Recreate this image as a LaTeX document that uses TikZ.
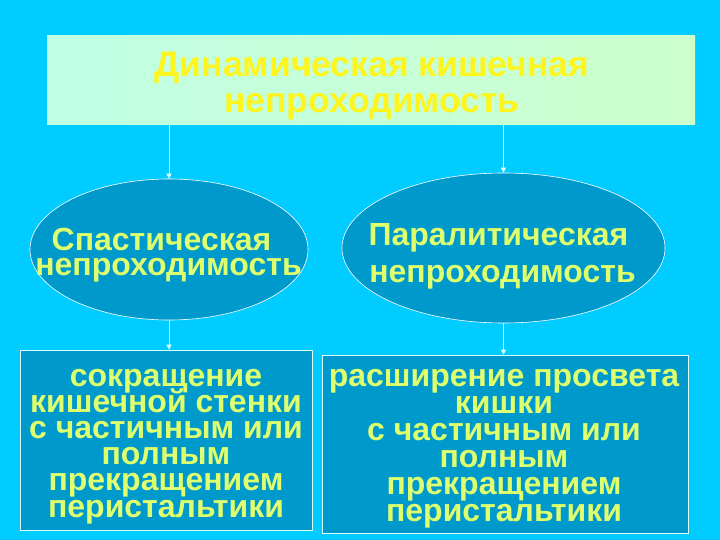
\documentclass[tikz,border=0pt]{standalone}
\usepackage{fontspec}
\setmainfont{Liberation Sans}
\usetikzlibrary{shapes.geometric,arrows.meta}
\definecolor{bgc}{RGB}{0,204,255}
\definecolor{darkc}{RGB}{0,153,204}
\definecolor{titlefill}{RGB}{204,255,204}
\definecolor{titlefillL}{RGB}{192,255,228}
\definecolor{titletext}{RGB}{255,245,30}
\definecolor{nodetext}{RGB}{222,255,110}
\definecolor{linec}{RGB}{220,255,255}
\newcommand{\txtlines}[2]{\vtop{\baselineskip=#1\lineskiplimit=-100pt\lineskip=0pt\halign{\hfil##\hfil\cr #2\crcr}}}
\tikzset{
  titlebox/.style={draw=none, left color=titlefillL, right color=titlefill, inner sep=0pt},
  titletxt/.style={text=titletext, inner sep=0pt, anchor=base, font=\bfseries\fontsize{35.5}{36}\selectfont},
  ellnode/.style={ellipse, draw=white, line width=0.6pt, fill=darkc, inner sep=0pt},
  bodytxt/.style={text=nodetext, inner sep=0pt, anchor=base, font=\bfseries\fontsize{32}{32}\selectfont},
  resbox/.style={rectangle, draw=linec, line width=0.6pt, fill=darkc, inner sep=0pt},
  arr/.style={draw=linec, line width=0.6pt, -{Triangle[width=5pt,length=5pt]}}
}
\begin{document}
\begin{tikzpicture}[x=1pt,y=-1pt]
\fill[bgc] (0,0) rectangle (720,540);
\useasboundingbox (0,0) rectangle (720,540);
% shapes
\node[titlebox, minimum width=648pt, minimum height=89pt] (top) at (371,80.5) {};
\node[ellnode, minimum width=278pt, minimum height=141pt] (sp) at (169,249.5) {};
\node[ellnode, minimum width=323pt, minimum height=150pt] (pa) at (503.5,248) {};
\node[resbox, minimum width=292pt, minimum height=180pt] (lb) at (166,440) {};
\node[resbox, minimum width=366pt, minimum height=178pt] (rb) at (505,444) {};
% texts (first baseline placed)
\node[titletxt] (topt) at (372,77) {\txtlines{36pt}{Динамическая кишечная\cr непроходимость}};
\node[bodytxt] (spt) at (168.5,250) {\txtlines{25.5pt}{Спастическая\kern14pt\cr непроходимость}};
\node[bodytxt] (pat) at (502.5,245) {\txtlines{37pt}{Паралитическая\kern8pt\cr непроходимость}};
\node[bodytxt] (lbt) at (166,386) {\txtlines{26.2pt}{сокращение\cr кишечной стенки\cr с частичным или\cr полным\cr прекращением\cr перистальтики}};
\node[bodytxt] (rbt) at (504,386) {\txtlines{27pt}{расширение просвета\cr кишки\cr с частичным или\cr полным\cr прекращением\cr перистальтики}};
% connectors
\draw[arr] (top.south -| sp.north) -- (sp.north);
\draw[arr] (top.south -| pa.north) -- (pa.north);
\draw[arr] (sp.south) -- (sp.south |- lb.north);
\draw[arr] (pa.south) -- (pa.south |- rb.north);
\end{tikzpicture}
\end{document}
